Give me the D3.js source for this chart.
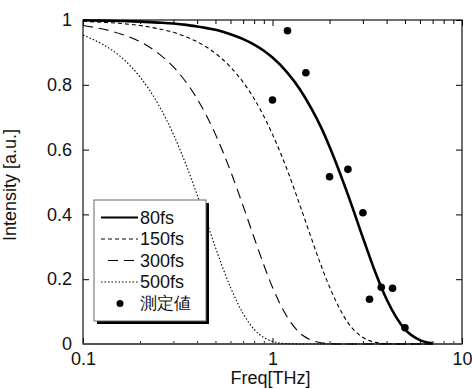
<!DOCTYPE html>
<html>
<head>
<meta charset="utf-8">
<script src="https://cdn.jsdelivr.net/npm/d3@7"></script>
<style>
  body { margin: 0; background: #fff; }
  text { font-family: "Liberation Sans", Arial, sans-serif; fill: #111; }
</style>
</head>
<body>
<div id="chart"></div>
<script>
// frequency grid (THz) and intensity for each pulse width
var freq = [0.1, 0.125, 0.16, 0.2, 0.25, 0.3, 0.35, 0.4, 0.45, 0.5, 0.6, 0.7, 0.8, 0.9,
            1, 1.2, 1.4, 1.6, 1.8, 2, 2.5, 3, 3.5, 4, 4.5, 5, 6, 7];
var fs80  = [0.999, 0.998, 0.997, 0.995, 0.992, 0.989, 0.985, 0.980, 0.975, 0.970, 0.956, 0.941, 0.924, 0.905,
             0.884, 0.837, 0.785, 0.728, 0.670, 0.609, 0.461, 0.328, 0.219, 0.138, 0.082, 0.045, 0.012, 0.002];
var fs150 = [0.996, 0.993, 0.989, 0.983, 0.973, 0.962, 0.948, 0.933, 0.916, 0.897, 0.855, 0.808, 0.757, 0.703,
             0.647, 0.535, 0.426, 0.328, 0.244, 0.176, 0.066, 0.020, 0.005, 0.001, 0, 0, 0, 0];
var fs300 = [0.983, 0.973, 0.956, 0.933, 0.897, 0.855, 0.808, 0.757, 0.703, 0.647, 0.534, 0.426, 0.328, 0.244,
             0.175, 0.082, 0.033, 0.012, 0.004, 0.001, 0, 0, 0, 0, 0, 0, 0, 0];
var fs500 = [0.953, 0.927, 0.884, 0.824, 0.739, 0.647, 0.553, 0.461, 0.376, 0.298, 0.175, 0.094, 0.045, 0.020,
             0.008, 0.001, 0, 0, 0, 0, 0, 0, 0, 0, 0, 0, 0, 0];

// measured points
var measF = [1.2, 1.5, 1.0, 2.0, 2.5, 3.0, 3.75, 4.3, 3.25, 5.0];
var measI = [0.967, 0.837, 0.753, 0.516, 0.539, 0.405, 0.175, 0.172, 0.138, 0.05];

var xTicks = [0.1, 1, 10];
var yTicks = [0, 0.2, 0.4, 0.6, 0.8, 1];
var legendLabels = ["80fs", "150fs", "300fs", "500fs", "測定値"];

var margin = {top: 20, right: 10, bottom: 45, left: 83},
    width = 472 - margin.left - margin.right,
    height = 389 - margin.top - margin.bottom;

var svg = d3.select("#chart")
  .append("svg")
  .attr("width", 472)
  .attr("height", 389)
  .append("g")
  .attr("transform", "translate(" + margin.left + "," + margin.top + ")");

var x = d3.scaleLog().domain([0.1, 10]).range([0, width]);
var y = d3.scaleLinear().domain([0, 1]).range([height, 0]);

// minor ticks for the log axis
var minor = [];
[0.1, 1].forEach(function(d) {
  for (var k = 2; k <= 9; k++) minor.push(d * k);
});

// axes with inward ticks on all four sides
var bottom = svg.append("g").attr("transform", "translate(0," + height + ")");
bottom.call(d3.axisBottom(x).tickValues(minor).tickSize(-3).tickFormat(""));
bottom.call(g => g.selectAll(".tick line").attr("stroke", "#222"));
var bottomMajor = svg.append("g").attr("transform", "translate(0," + height + ")")
  .call(d3.axisBottom(x).tickValues(xTicks).tickSize(-6).tickPadding(10).tickFormat(d3.format("")));

svg.append("g")
  .call(d3.axisTop(x).tickValues(minor).tickSize(-4).tickFormat(""));
svg.append("g")
  .call(d3.axisTop(x).tickValues(xTicks).tickSize(-6).tickFormat(""));

svg.append("g")
  .call(d3.axisLeft(y).tickValues(yTicks).tickSize(-6).tickPadding(11).tickFormat(d3.format("")));
svg.append("g").attr("transform", "translate(" + width + ",0)")
  .call(d3.axisRight(y).tickValues(yTicks).tickSize(-6).tickFormat(""));

svg.selectAll(".domain").remove();
svg.selectAll(".tick text").attr("font-size", 18).attr("font-family", "Liberation Sans, Arial, sans-serif").attr("fill", "#111");
bottomMajor.selectAll(".tick text").attr("dy", "0.6em");

// frame
svg.append("rect")
  .attr("width", width).attr("height", height)
  .attr("fill", "none").attr("stroke", "#111").attr("stroke-width", 1.2);
svg.append("line")
  .attr("x1", 0).attr("x2", width).attr("y1", height).attr("y2", height)
  .attr("stroke", "#555").attr("stroke-width", 2);

// curves
var series = [
  {vals: fs80,  width: 2.6, dash: null},
  {vals: fs150, width: 1.1, dash: "4,3"},
  {vals: fs300, width: 1.1, dash: "10,6"},
  {vals: fs500, width: 1.1, dash: "1.5,2"}
];

var line = d3.line()
  .x(function(d) { return x(d[0]); })
  .y(function(d) { return y(d[1]); })
  .curve(d3.curveMonotoneX);

var plot = svg.append("g");
series.forEach(function(s) {
  plot.append("path")
    .datum(freq.map(function(f, i) { return [f, s.vals[i]]; }))
    .attr("d", line)
    .attr("fill", "none")
    .attr("stroke", "#000")
    .attr("stroke-width", s.width)
    .attr("stroke-dasharray", s.dash);
});

plot.selectAll("circle")
  .data(measF.map(function(f, i) { return [f, measI[i]]; }))
  .enter()
  .append("circle")
  .attr("cx", function(d) { return x(d[0]); })
  .attr("cy", function(d) { return y(d[1]); })
  .attr("r", 3.8)
  .attr("fill", "#000");

// axis titles
svg.append("text")
  .attr("x", width / 2 - 2)
  .attr("y", height + 40)
  .attr("text-anchor", "middle")
  .attr("font-size", 18)
  .text("Freq[THz]");

svg.append("text")
  .attr("transform", "translate(" + (-margin.left + 16) + "," + (height / 2 + 3) + ") rotate(-90)")
  .attr("text-anchor", "middle")
  .attr("font-size", 18)
  .text("Intensity [a.u.]");

// legend
var lg = svg.append("g").attr("transform", "translate(11,180)");
lg.append("rect").attr("x", 3).attr("y", 3).attr("width", 112).attr("height", 121).attr("fill", "#000");
lg.append("rect").attr("x", 0).attr("y", 0).attr("width", 112).attr("height", 121)
  .attr("fill", "#fff").attr("stroke", "#666").attr("stroke-width", 1);

var rows = lg.selectAll("g.row")
  .data(legendLabels)
  .enter()
  .append("g")
  .attr("class", "row")
  .attr("transform", function(d, i) { return "translate(0," + (17.5 + i * 21.5) + ")"; });

rows.each(function(d, i) {
  var r = d3.select(this);
  if (i < 4) {
    var s = series[i];
    var x0 = i == 2 ? 14 : 7;
    r.append("line")
      .attr("x1", x0).attr("x2", 44)
      .attr("stroke", "#000")
      .attr("stroke-width", i == 0 ? 2 : 1)
      .attr("stroke-dasharray", s.dash);
  } else {
    r.append("circle").attr("cx", 26).attr("r", 3.5).attr("fill", "#000");
  }
  r.append("text")
    .attr("x", 46)
    .attr("dy", "0.35em")
    .attr("font-size", i == 4 ? 17 : 18)
    .attr("font-family", i == 4 ? "Noto Sans CJK JP, sans-serif" : null)
    .text(d);
});
</script>
</body>
</html>
